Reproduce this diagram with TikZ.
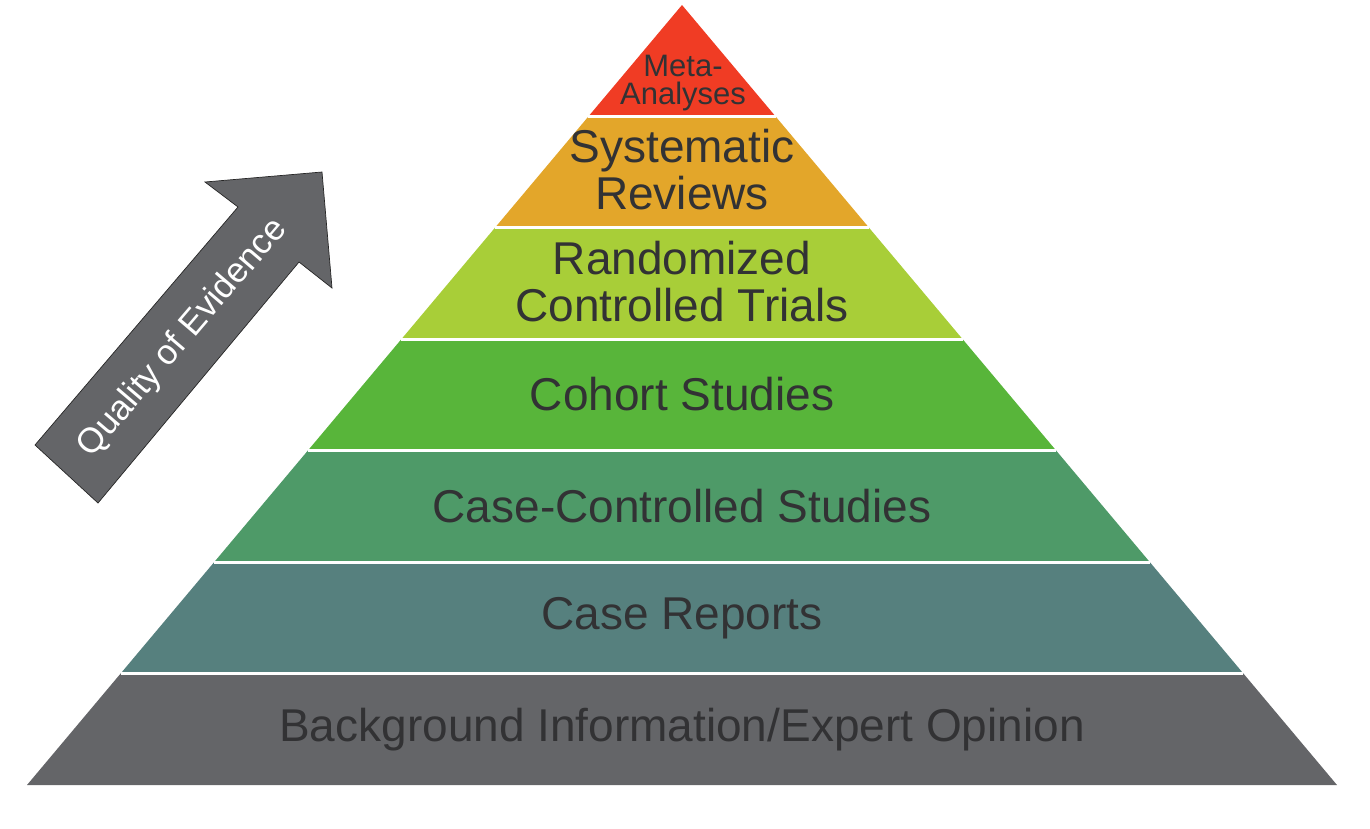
\documentclass[tikz,border=0pt]{standalone}
\usepackage{fontspec}
\setmainfont{Liberation Sans}
\usetikzlibrary{calc}
\definecolor{metared}{RGB}{240,60,36}
\definecolor{sysorange}{RGB}{227,166,42}
\definecolor{rctlime}{RGB}{168,206,56}
\definecolor{cohortgreen}{RGB}{88,181,58}
\definecolor{casegreen}{RGB}{78,154,104}
\definecolor{reportteal}{RGB}{86,128,126}
\definecolor{opiniongray}{RGB}{100,101,104}
\definecolor{labeltext}{RGB}{50,50,52}
\begin{document}
\begin{tikzpicture}[x=1pt,y=-1pt,
  band label/.style={text=labeltext, align=center, font=\fontsize{46}{47}\selectfont},
  small label/.style={text=labeltext, align=center, font=\fontsize{31}{28}\selectfont}]
\useasboundingbox (0,0) rectangle (1370,828);
\coordinate (apex) at (682,5);
\coordinate (bl) at (27,785);
\coordinate (br) at (1337,785);

\foreach \a/\b/\col in {0/1/metared, 1/2/sysorange, 2/3/rctlime, 3/4/cohortgreen,
                        4/5/casegreen, 5/6/reportteal, 6/7/opiniongray}
  \fill[\col] ($(apex)!\a/7!(bl)$) -- ($(apex)!\a/7!(br)$)
           -- ($(apex)!\b/7!(br)$) -- ($(apex)!\b/7!(bl)$) -- cycle;
\foreach \k in {1,...,6}
  \draw[white, line width=3pt] ($(apex)!\k/7!(bl)$) -- ($(apex)!\k/7!(br)$);

\node[small label] (meta) at (683,83) {Meta-\\Analyses};
\node[band label] (sysrev) at (682,170) {Systematic\\Reviews};
\node[band label] (rct) at (682,282) {Randomized\\Controlled Trials};
\node[band label] (cohort) at (682,394) {Cohort Studies};
\node[band label] (casectrl) at (682,506) {Case-Controlled Studies};
\node[band label] (reports) at (682,618) {Case Reports};
\node[band label] (opinion) at (682,730) {Background Information/Expert Opinion};

\filldraw[fill=opiniongray, draw=black!85, line width=0.7pt]
  (35,445) -- (238,207) -- (205,182) -- (322,172) -- (332,288) -- (299,262) -- (98,503) -- cycle;
\node[text=white, rotate=49.5, font=\fontsize{35}{38}\selectfont] (quality) at (183,338) {Quality of Evidence};

\end{tikzpicture}
\end{document}
